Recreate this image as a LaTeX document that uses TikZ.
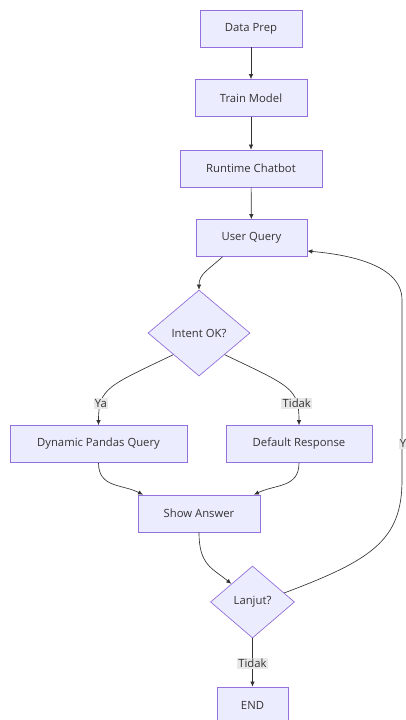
\documentclass[tikz,border=0pt]{standalone}
\usepackage{fontspec}
\setmainfont{Open Sans}
\usetikzlibrary{shapes,arrows.meta,positioning,calc}
\definecolor{nodefill}{HTML}{ECECFF}
\definecolor{nodeline}{HTML}{9370DB}
\definecolor{edgegray}{HTML}{333333}
\definecolor{labelgray}{HTML}{E8E8E8}

\begin{document}
\begin{tikzpicture}[x=1pt, y=-1pt,
    box/.style={draw=nodeline, fill=nodefill, line width=0.7pt, rectangle, minimum height=37pt, inner sep=0pt, text=edgegray, font=\fontsize{11.3}{13}\selectfont},
    decision/.style={box, diamond},
    flow/.style={draw=edgegray, line width=0.65pt, -{Latex[length=5pt,width=4.5pt]}},
    lbl/.style={fill=labelgray, inner sep=1.2pt, text=edgegray, font=\fontsize{11.3}{13}\selectfont},
]
    \useasboundingbox (0,0) rectangle (406,720);
    % Pipeline
    \node[box, minimum width=102pt] (prep) at (251,28.5) {Data Prep};
    \node[box, minimum width=112pt] (train) at (251,98) {Train Model};
    \node[box, minimum width=142pt] (runtime) at (251,168.5) {Runtime Chatbot};
    \node[box, minimum width=111pt] (query) at (251.5,238) {User Query};
    % Intent check
    \node[decision, minimum width=102pt, minimum height=86pt] (intent) at (199,333) {Intent OK?};
    \node[box, minimum width=177pt] (pandas) at (98.5,444) {Dynamic Pandas Query};
    \node[box, minimum width=146pt] (default) at (299,444) {Default Response};
    \node[box, minimum width=122pt] (show) at (199,513.5) {Show Answer};
    % Loop or stop
    \node[decision, minimum width=84pt, minimum height=72pt] (lanjut) at (252.5,602) {Lanjut?};
    \node[box, minimum width=71pt] (end) at (252.5,705.5) {END};
    % Connectors
    \draw[flow] (prep) -- (train);
    \draw[flow] (train) -- (runtime);
    \draw[flow] (runtime) -- (query);
    \draw[flow] ([xshift=-29pt]query.south) .. controls (208,270) and (199,274) .. (intent.north);
    \draw[flow] (intent.south west) .. controls (108,386) and (98.5,388) .. node[lbl, pos=0.76] {Ya} (pandas.north);
    \draw[flow] (intent.south east) .. controls (290,386) and (299,388) .. node[lbl, pos=0.76] {Tidak} (default.north);
    \draw[flow] (pandas.south) .. controls (98.5,488) and (122,484) .. ([xshift=-56pt]show.north);
    \draw[flow] (default.south) .. controls (299,488) and (276,484) .. ([xshift=55pt]show.north);
    \draw[flow] (show.south) .. controls (199,565) and (212,568) .. (lanjut.north west);
    \draw[flow] ($(lanjut.north)!0.75!(lanjut.east)$) .. controls (372,560) and (402,540) .. (402,480)
        -- node[lbl, pos=0.2, xshift=4pt] {Ya} (402,300)
        .. controls (402,262) and (340,254) .. ([yshift=-13pt]query.east);
    \draw[flow] (lanjut.south) -- node[lbl, pos=0.52] {Tidak} (end.north);
\end{tikzpicture}
\end{document}
